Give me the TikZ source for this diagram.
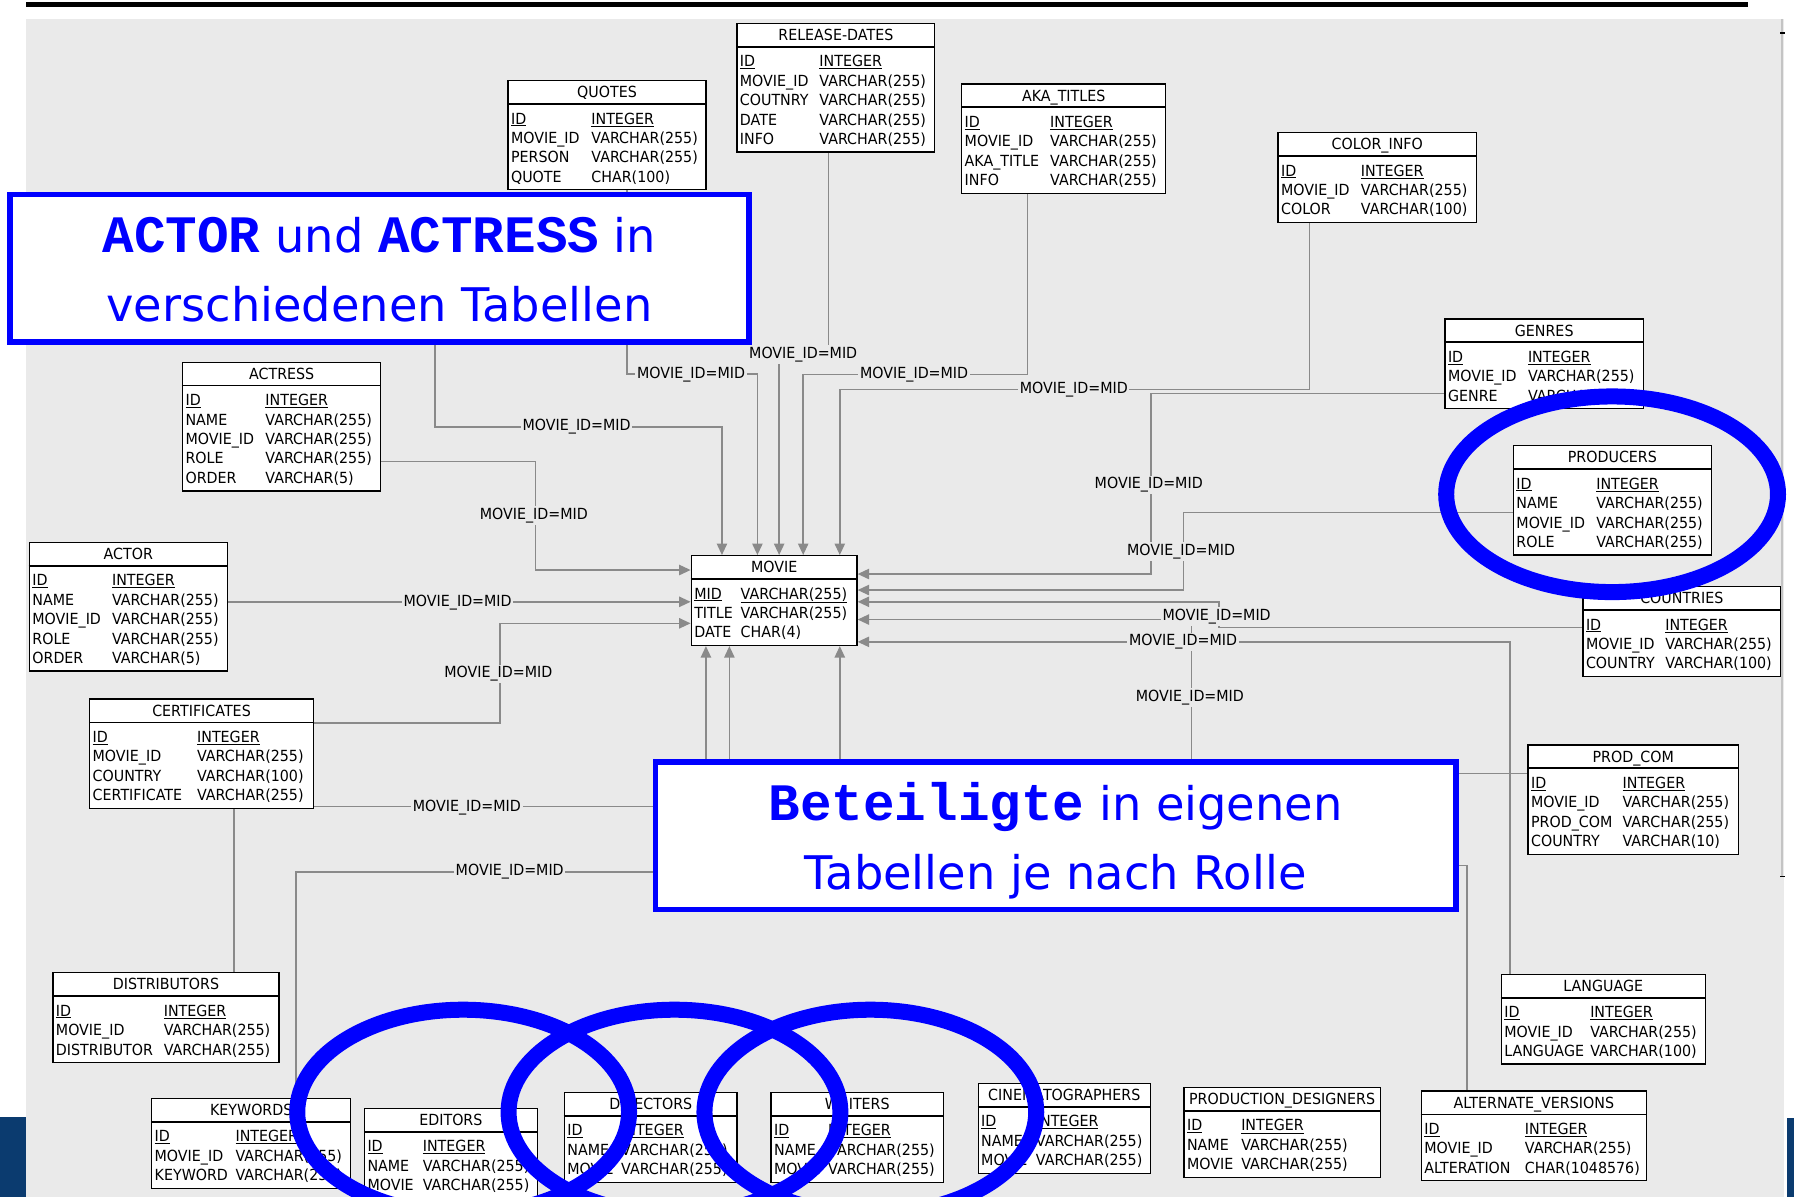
\documentclass[tikz,border=0pt]{standalone}
\usepackage{fontspec}
\usetikzlibrary{calc,arrows.meta}
\newfontfamily\dvfont[FakeStretch=0.93]{DejaVu Sans}
\newfontfamily\dvbig{DejaVu Sans}
\newfontfamily\monob{Liberation Mono}
\definecolor{panel}{RGB}{234,234,234}
\definecolor{lgray}{RGB}{138,138,138}
\definecolor{edgegray}{RGB}{196,196,196}
\definecolor{navy}{RGB}{11,59,111}
\definecolor{callblue}{RGB}{0,0,255}
\pgfdeclarelayer{back}\pgfdeclarelayer{conn}\pgfdeclarelayer{front}
\pgfsetlayers{back,conn,main,front}
\tikzset{
  tbl/.style={draw=black, fill=white, line width=1.1, inner sep=0, rectangle},
  hdrline/.style={draw=black, line width=1.5},
  tbltxt/.style={font=\dvfont\fontsize{13.4}{15}\selectfont, inner sep=0, anchor=base west, text=black},
  conn/.style={draw=lgray, line width=1.3},
  arr/.style={conn, -{Triangle[length=10pt,width=9pt]}},
  lbl/.style={font=\dvfont\fontsize{13.4}{15}\selectfont, fill=panel, inner sep=1.5, text=black},
  callout/.style={draw=callblue, line width=5, fill=white, inner sep=0, rectangle},
  calltxt/.style={font=\dvbig\fontsize{40.5}{48}\selectfont, text=callblue, inner sep=0, anchor=base},
  ring/.style={draw=callblue, line width=14}
}
\newcommand\cmono[1]{{\monob\bfseries\fontsize{46}{50}\selectfont #1}}
% #1 name, #2 x, #3 y, #4 width, #5 col2 offset, #6 rows, #7 title, #8 rows list
\newcommand\dbtable[8]{%
  \node[tbl, minimum width=#4, minimum height={27.5+17*#6}, anchor=north west] (#1) at (#2,#3) {};
  \draw[hdrline] ($(#1.north west)+(0,21)$) -- ($(#1.north east)+(0,21)$);
  \node[tbltxt, anchor=base] at ($(#1.north)+(0,15.5)$) {#7};
  \foreach \ca/\cb [count=\ci] in {#8} {
    \node[tbltxt] at ($(#1.north west)+(3,{38.5+17*(\ci-1)})$) {\ifnum\ci=1 \underline{\ca}\else\ca\fi};
    \node[tbltxt] at ($(#1.north west)+(#5,{38.5+17*(\ci-1)})$) {\ifnum\ci=1 \underline{\cb}\else\cb\fi};
  }%
}
\begin{document}
\begin{tikzpicture}[x=1pt,y=-1pt]
\useasboundingbox (0,0) rectangle (1568,1046);
\begin{pgfonlayer}{back}
  \fill[white] (0,0) rectangle (1568,1046);
  \fill[panel] (22.5,16.6) rectangle (1559,1046);
  \draw[edgegray, line width=1.5] (1557.5,16.6) -- (1557.5,766);
  \draw[black, line width=1.5] (1556,29) -- (1560,29);
  \draw[black, line width=1.5] (1556,766) -- (1560,766);
  \fill[black] (22.6,1.5) rectangle (1528,5.8);
\end{pgfonlayer}

% ---------- tables ----------
\dbtable{reldates}{643.5}{19.8}{173}{72.5}{5}{RELEASE-DATES}{ID/INTEGER, MOVIE\_ID/VARCHAR(255), COUTNRY/VARCHAR(255), DATE/VARCHAR(255), INFO/VARCHAR(255)}
\dbtable{quotes}{443.5}{69.9}{173}{73.2}{4}{QUOTES}{ID/INTEGER, MOVIE\_ID/VARCHAR(255), PERSON/VARCHAR(255), QUOTE/CHAR(100)}
\dbtable{aka}{840}{72.8}{178.3}{77.7}{4}{AKA\_TITLES}{ID/INTEGER, MOVIE\_ID/VARCHAR(255), AKA\_TITLE/VARCHAR(255), INFO/VARCHAR(255)}
\dbtable{color}{1116.5}{115.4}{173.5}{72.8}{3}{COLOR\_INFO}{ID/INTEGER, MOVIE\_ID/VARCHAR(255), COLOR/VARCHAR(100)}
\dbtable{genres}{1262.4}{278.2}{173.4}{72.9}{3}{GENRES}{ID/INTEGER, MOVIE\_ID/VARCHAR(255), GENRE/VARCHAR(255)}
\dbtable{producers}{1322.2}{389}{173}{72.8}{4}{PRODUCERS}{ID/INTEGER, NAME/VARCHAR(255), MOVIE\_ID/VARCHAR(255), ROLE/VARCHAR(255)}
\dbtable{countries}{1383}{512.2}{172.8}{72.3}{3}{COUNTRIES}{ID/INTEGER, MOVIE\_ID/VARCHAR(255), COUNTRY/VARCHAR(100)}
\dbtable{prodcom}{1335}{650.5}{183.8}{83}{4}{PROD\_COM}{ID/INTEGER, MOVIE\_ID/VARCHAR(255), PROD\_COM/VARCHAR(255), COUNTRY/VARCHAR(10)}
\dbtable{language}{1311.6}{851}{178.4}{78.1}{3}{LANGUAGE}{ID/INTEGER, MOVIE\_ID/VARCHAR(255), LANGUAGE/VARCHAR(100)}
\dbtable{altver}{1241.7}{953}{196.7}{90.9}{3}{ALTERNATE\_VERSIONS}{ID/INTEGER, MOVIE\_ID/VARCHAR(255), ALTERATION/CHAR(1048576)}
\dbtable{proddes}{1034.3}{950}{171.4}{50.4}{3}{PRODUCTION\_DESIGNERS}{ID/INTEGER, NAME/VARCHAR(255), MOVIE/VARCHAR(255)}
\dbtable{cinema}{854.4}{946.3}{150.5}{50.8}{3}{CINEMATOGRAPHERS}{ID/INTEGER, NAME/VARCHAR(255), MOVIE/VARCHAR(255)}
\dbtable{writers}{673.4}{954.2}{150.6}{50.3}{3}{WRITERS}{ID/INTEGER, NAME/VARCHAR(255), MOVIE/VARCHAR(255)}
\dbtable{directors}{492.7}{954.2}{151}{50}{3}{DIRECTORS}{ID/INTEGER, NAME/VARCHAR(255), MOVIE/VARCHAR(255)}
\dbtable{editors}{318}{968.2}{151.1}{51.4}{3}{EDITORS}{ID/INTEGER, NAME/VARCHAR(255), MOVIE/VARCHAR(255)}
\dbtable{keywords}{132}{959.4}{174.1}{73.7}{3}{KEYWORDS}{ID/INTEGER, MOVIE\_ID/VARCHAR(255), KEYWORD/VARCHAR(255)}
\dbtable{distrib}{45.7}{849.6}{197.6}{97.3}{3}{DISTRIBUTORS}{ID/INTEGER, MOVIE\_ID/VARCHAR(255), DISTRIBUTOR/VARCHAR(255)}
\dbtable{certif}{77.8}{610.4}{195.6}{94.3}{4}{CERTIFICATES}{ID/INTEGER, MOVIE\_ID/VARCHAR(255), COUNTRY/VARCHAR(100), CERTIFICATE/VARCHAR(255)}
\dbtable{actor}{25.1}{473.4}{173.1}{72.7}{5}{ACTOR}{ID/INTEGER, NAME/VARCHAR(255), MOVIE\_ID/VARCHAR(255), ROLE/VARCHAR(255), ORDER/VARCHAR(5)}
\dbtable{actress}{159}{316}{173.3}{72.8}{5}{ACTRESS}{ID/INTEGER, NAME/VARCHAR(255), MOVIE\_ID/VARCHAR(255), ROLE/VARCHAR(255), ORDER/VARCHAR(5)}
\dbtable{movie}{603.6}{485.1}{144.9}{43.6}{3}{MOVIE}{MID/VARCHAR(255), TITLE/VARCHAR(255), DATE/CHAR(4)}

% ---------- callouts ----------
\begin{pgfonlayer}{front}
  \node[callout, minimum width=646.3, minimum height=129] (c1) at (331.65,234.5) {};
  \node[callout, minimum width=699.5, minimum height=128.7] (c2) at (922.75,730.55) {};
  \node[calltxt] (c1a) at (331.6,220.8) {\cmono{ACTOR} und \cmono{ACTRESS} in};
  \node[calltxt] (c1b) at (331.6,280.6) {verschiedenen Tabellen};
  \node[calltxt] (c2a) at (922.7,716.7) {\cmono{Beteiligte} in eigenen};
  \node[calltxt] (c2b) at (922.7,777.3) {Tabellen je nach Rolle};
  \draw[ring] (1409,432) ellipse [x radius=145, y radius=85.5];
  \draw[ring] (404.8,972) ellipse [x radius=145, y radius=89.5];
  \draw[ring] (589.5,972) ellipse [x radius=145, y radius=89.5];
  \draw[ring] (760.7,972) ellipse [x radius=145, y radius=89.5];
  \fill[navy] (0,976.6) rectangle (22.6,1046);
  \fill[navy] (1561.6,976.8) rectangle (1568,1046);
\end{pgfonlayer}

% ---------- connectors ----------
\begin{pgfonlayer}{conn}
  % top
  \draw[arr] (380,0 |- c1.center) -- (380,373) -- (631,373) -- (631,0 |- movie.north);
  \draw[arr] (548,0 |- quotes.south) -- (548,327) -- (662,327) -- (662,0 |- movie.north);
  \draw[arr] (724,0 |- reldates.south) -- (724,310) -- (681,310) -- (681,0 |- movie.north);
  \draw[arr] (898,0 |- aka.south) -- (898,327.5) -- (702,327.5) -- (702,0 |- movie.north);
  \draw[arr] (1144.5,0 |- color.south) -- (1144.5,340.5) -- (734,340.5) -- (734,0 |- movie.north);
  % right
  \draw[arr] (genres.west |- 0,344) -- (1006,344) -- (1006,501.7) -- (movie.east |- 0,501.7);
  \draw[arr] (producers.west |- 0,447.8) -- (1034.3,447.8) -- (1034.3,515.7) -- (movie.east |- 0,515.7);
  \draw[arr] (countries.west |- 0,548.3) -- (1065.5,548.3) -- (1065.5,526) -- (movie.east |- 0,526);
  \draw[arr] (1041.6,0 |- c2.center) -- (1041.6,541.5) -- (movie.east |- 0,541.5);
  \draw[arr] (1319.8,0 |- language.north) -- (1319.8,561) -- (movie.east |- 0,561);
  % left
  \draw[arr] (actress.east |- 0,403.5) -- (468,403.5) -- (468,498.2) -- (movie.west |- 0,498.2);
  \draw[arr] (actor.east |- 0,526) -- (movie.west |- 0,526);
  \draw[arr] (certif.east |- 0,632) -- (437,632) -- (437,544.8) -- (movie.west |- 0,544.8);
  % bottom
  \draw[arr] (617,0 |- c2.center) -- (617,0 |- movie.south);
  \draw[arr] (637.5,0 |- c2.center) -- (637.5,0 |- movie.south);
  \draw[arr] (734,0 |- c2.center) -- (734,0 |- movie.south);
  % hidden behind callout 2
  \draw[conn] (204.7,0 |- distrib.north) -- (204.7,705) -- (c2.center |- 0,705);
  \draw[conn] (258.9,0 |- keywords.north) -- (258.9,762) -- (c2.center |- 0,762);
  \draw[conn] (prodcom.west |- 0,676) -- (c2.center |- 0,676);
  \draw[conn] (1282,0 |- altver.north) -- (1282,756.6) -- (c2.center |- 0,756.6);
  % labels
  \node[lbl] (l1) at (702,310) {MOVIE\_ID=MID};
  \node[lbl] (l2) at (604,327) {MOVIE\_ID=MID};
  \node[lbl] (l3) at (799,327.5) {MOVIE\_ID=MID};
  \node[lbl] (l4) at (938.5,340.5) {MOVIE\_ID=MID};
  \node[lbl] (l5) at (504,373) {MOVIE\_ID=MID};
  \node[lbl] (l6) at (466.6,450.7) {MOVIE\_ID=MID};
  \node[lbl] (l7) at (1004,424) {MOVIE\_ID=MID};
  \node[lbl] (l8) at (1032.3,482) {MOVIE\_ID=MID};
  \node[lbl] (l9) at (400,527) {MOVIE\_ID=MID};
  \node[lbl] (l10) at (1063.4,539) {MOVIE\_ID=MID};
  \node[lbl] (l11) at (1034,561) {MOVIE\_ID=MID};
  \node[lbl] (l12) at (435.5,589) {MOVIE\_ID=MID};
  \node[lbl] (l13) at (1040,609.5) {MOVIE\_ID=MID};
  \node[lbl] (l14) at (408,705.5) {MOVIE\_ID=MID};
  \node[lbl] (l15) at (445.5,762) {MOVIE\_ID=MID};
\end{pgfonlayer}
\end{tikzpicture}
\end{document}
